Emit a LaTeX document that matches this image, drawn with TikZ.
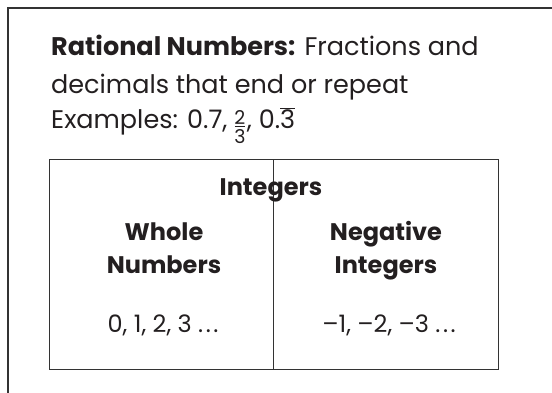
\documentclass[tikz,border=0pt]{standalone}
\usepackage{fontspec}
\setmainfont{Poppins}
\definecolor{ink}{HTML}{231F20}
\definecolor{frame}{HTML}{333333}
\newcommand{\sdots}{.\kern2.5pt.\kern2.5pt.}
\newcommand{\fr}[2]{\raisebox{-15pt}{\fontsize{19}{19}\selectfont\shortstack{#1\\[-1pt]\rule{10pt}{0.9pt}\\[-1pt]#2}}\kern1.5pt}
\begin{document}
\begin{tikzpicture}[x=1pt,y=1pt,
  txt/.style={inner sep=0pt,anchor=base west,text=ink},
  ctr/.style={inner sep=0pt,anchor=base,text=ink},
  bigf/.style={font=\fontsize{25.5}{37}\selectfont},
  smf/.style={font=\fontsize{24}{33}\selectfont\bfseries},
  valf/.style={font=\fontsize{24}{33}\selectfont}]
\useasboundingbox (0,0) rectangle (552,-392);
\begin{scope}
\clip (0,0) rectangle (552,-392);
\draw[frame,line width=2.5pt] (8,-8) rectangle (570,-410);
\end{scope}
\node[draw=frame,line width=1pt,minimum width=449pt,minimum height=210pt,anchor=north west,inner sep=0pt] (ibox) at (49,-159) {};
\coordinate (dtop) at (273,-159);
\coordinate (dbot) at (273,-369);
\draw[frame,line width=1pt] (dtop) -- (dbot);
\node[txt,bigf] (l1) at (51,-55) {\textbf{Rational Numbers:} Fractions and};
\node[txt,bigf] (l2) at (51,-93) {decimals that end or repeat};
\node[txt,bigf] (l3) at (51,-128) {Examples: 0.7, \fr{2}{3}, 0.$\overline{\mbox{3}}$};
\node[ctr,smf] (int) at (271,-195) {Integers};
\node[ctr,smf] (wn1) at (164,-240) {Whole};
\node[ctr,smf] (wn2) at (164,-273) {Numbers};
\node[ctr,smf] (ni1) at (386,-240) {Negative};
\node[ctr,smf] (ni2) at (386,-273) {Integers};
\node[ctr,valf] (wv) at (163,-332) {0, 1, 2, 3 \sdots};
\node[ctr,valf] (nv) at (389,-332) {–1, –2, –3 \sdots};
\end{tikzpicture}
\end{document}
